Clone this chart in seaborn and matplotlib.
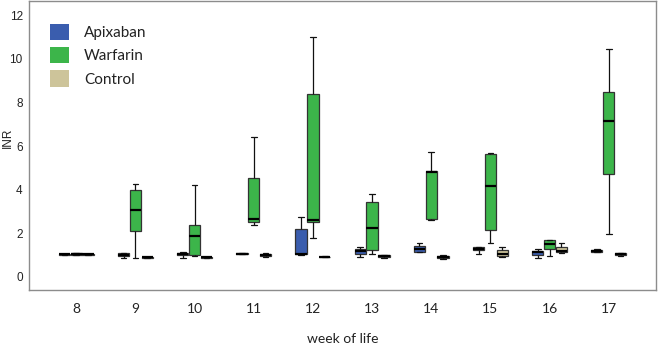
import numpy as np
import pandas as pd
import seaborn as sns
import matplotlib.pyplot as plt
from matplotlib.patches import Patch

weeks = [8, 9, 10, 11, 12, 13, 14, 15, 16, 17]
groups = ['Apixaban', 'Warfarin', 'Control']
colors = ['#3a5dae', '#3cb54a', '#cdc49a']

# per week: min, q1, median, q3, max
apixaban = [
    [1.00, 1.02, 1.03, 1.05, 1.06],
    [0.85, 0.97, 1.02, 1.08, 1.10],
    [0.88, 0.98, 1.05, 1.10, 1.12],
    [1.05, 1.06, 1.07, 1.08, 1.09],
    [1.02, 1.05, 1.07, 2.20, 2.74],
    [0.89, 1.07, 1.19, 1.30, 1.38],
    [1.12, 1.14, 1.28, 1.42, 1.56],
    [1.03, 1.22, 1.30, 1.36, 1.38],
    [0.86, 0.98, 1.12, 1.20, 1.26],
    [1.12, 1.15, 1.20, 1.24, 1.26],
]
warfarin = [
    [1.00, 1.02, 1.05, 1.09, 1.10],
    [0.85, 2.10, 3.05, 3.98, 4.28],
    [0.95, 1.00, 1.87, 2.36, 4.22],
    [2.36, 2.52, 2.66, 4.53, 6.41],
    [1.76, 2.50, 2.60, 8.40, 11.00],
    [1.07, 1.22, 2.23, 3.44, 3.78],
    [2.60, 2.66, 4.80, 4.86, 5.73],
    [1.53, 2.14, 4.17, 5.63, 5.70],
    [0.95, 1.30, 1.52, 1.68, 1.70],
    [1.97, 4.71, 7.14, 8.47, 10.45],
]
control = [
    [1.00, 1.01, 1.03, 1.05, 1.06],
    [0.86, 0.88, 0.89, 0.90, 0.91],
    [0.87, 0.88, 0.89, 0.90, 0.91],
    [0.92, 0.97, 1.02, 1.06, 1.10],
    [0.90, 0.91, 0.92, 0.93, 0.94],
    [0.86, 0.90, 0.95, 0.98, 1.00],
    [0.82, 0.86, 0.90, 0.95, 0.99],
    [0.89, 0.95, 1.07, 1.22, 1.36],
    [1.10, 1.12, 1.19, 1.36, 1.55],
    [0.95, 1.00, 1.05, 1.08, 1.10],
]

rows = []
for g, vals in zip(groups, [apixaban, warfarin, control]):
    for w, five in zip(weeks, vals):
        for v in five:
            rows.append((w, g, v))
df = pd.DataFrame(rows, columns=['week', 'group', 'INR'])

sns.set_style('white')
fig, ax = plt.subplots(figsize=(6.58, 3.45), dpi=100)
fig.subplots_adjust(left=0.044, right=0.997, top=0.997, bottom=0.159)

sns.boxplot(data=df, x='week', y='INR', hue='group', hue_order=groups,
            palette=colors, saturation=1, width=0.6, gap=0.05, whis=(0, 100),
            linecolor='#333333', linewidth=0.9,
            whiskerprops=dict(color='#111111'), capprops=dict(color='#111111'),
            medianprops=dict(color='black', linewidth=1.6),
            legend=False, ax=ax)

ax.set_xlim(-0.8, 9.8)
ax.set_ylim(-0.61, 12.65)
ax.set_yticks(range(0, 13, 2))

for s in ax.spines.values():
    s.set_color('#8c8c8c')
    s.set_linewidth(1.0)

ax.tick_params(axis='x', length=0, pad=9, labelsize=10, labelcolor='#222222')
ax.tick_params(axis='y', length=3, width=0.8, color='#8c8c8c', pad=1.5,
               labelsize=8.5, labelcolor='#222222')
for lbl in ax.get_xticklabels():
    lbl.set_fontfamily('Lato')
for lbl in ax.get_yticklabels():
    lbl.set_fontfamily('Liberation Sans')

ax.set_xlabel('week of life', fontfamily='Lato', fontsize=10, color='#222222', labelpad=13)
ax.set_ylabel('INR', fontfamily='Liberation Sans', fontsize=8.5, color='#222222')
ax.yaxis.set_label_coords(-0.024, 0.526)

handles = [Patch(facecolor=c, edgecolor='none', label=g) for g, c in zip(groups, colors)]
ax.legend(handles=handles, loc='upper left', bbox_to_anchor=(0.033, 0.92),
          frameon=False, borderpad=0, borderaxespad=0, handlelength=1.25,
          handleheight=1.25, handletextpad=1.0, labelspacing=0.45,
          prop={'family': 'Lato', 'size': 11}, labelcolor='#222222')

fig.savefig('out.png', dpi=100)
